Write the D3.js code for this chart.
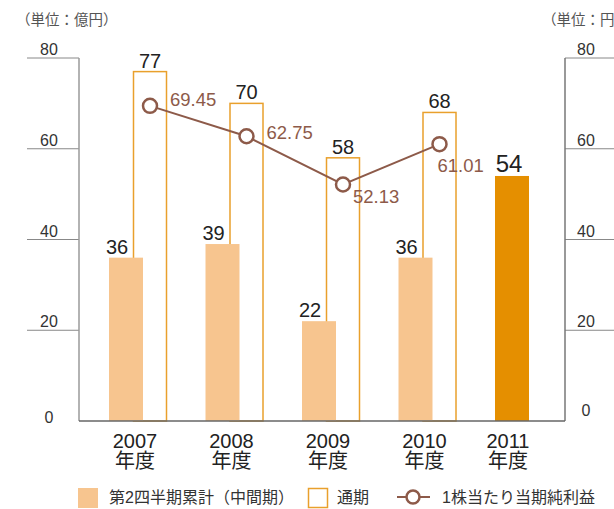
<!DOCTYPE html>
<html>

<head>
    <meta charset="utf-8">
    <style>
        body {
            margin: 0;
            background: #fff;
        }

        svg text {
            font-family: 'Liberation Sans', 'Noto Sans CJK JP', sans-serif;
        }
    </style>
</head>

<body>
    <svg width="614" height="509"></svg>

    <script src="https://d3js.org/d3.v7.min.js"></script>

    <script>
        // chart data
        let years = ["2007", "2008", "2009", "2010", "2011"]
        let halfYear = [36, 39, 22, 36, 54]          // 第2四半期累計（中間期）
        let fullYear = [77, 70, 58, 68, null]        // 通期
        let eps = [69.45, 62.75, 52.13, 61.01, null] // 1株当たり当期純利益
        let yTicks = [0, 20, 40, 60, 80]

        // where each eps label sits relative to its point
        let epsLabelPos = [[20, 0], [20, 3], [10, 19], [-2, 28]]

        let svg = d3.select("svg")

        let x = d3.scalePoint()
            .domain(years)
            .range([126, 512])

        let y = d3.scaleLinear()
            .domain([0, 80])
            .range([421, 58])

        let left = 79, right = 565
        let fillW = 34, outW = 33, outShift = 24

        // unit labels
        svg.append("text")
            .attr("x", 16).attr("y", 25)
            .style("font-size", "14.5px").style("fill", "#555")
            .text("（単位：億円）")
        svg.append("text")
            .attr("x", 542).attr("y", 25)
            .style("font-size", "14.5px").style("fill", "#555")
            .text("（単位：円）")

        // tick lines, left and right
        let gTicks = yTicks.filter(d => d > 0)
        svg.selectAll(".tl")
            .data(gTicks)
            .join("line")
            .attr("x1", 27).attr("x2", left)
            .attr("y1", d => y(d)).attr("y2", d => y(d))
            .style("stroke", "#888").style("stroke-width", 1)
        svg.selectAll(".tr")
            .data(gTicks)
            .join("line")
            .attr("x1", right).attr("x2", 614)
            .attr("y1", d => y(d)).attr("y2", d => y(d))
            .style("stroke", "#888").style("stroke-width", 1)

        svg.selectAll(".ll")
            .data(yTicks)
            .join("text")
            .attr("x", 49)
            .attr("y", d => d == 0 ? y(d) + 2 : y(d) - 3)
            .attr("text-anchor", "middle")
            .style("font-size", "16px").style("fill", "#333")
            .text(d => d)
        svg.selectAll(".rl")
            .data(yTicks)
            .join("text")
            .attr("x", 586)
            .attr("y", d => d == 0 ? y(d) - 5 : y(d) - 3)
            .attr("text-anchor", "middle")
            .style("font-size", "16px").style("fill", "#333")
            .text(d => d)

        // vertical axes
        svg.append("line")
            .attr("x1", left).attr("x2", left)
            .attr("y1", y(80)).attr("y2", y(0))
            .style("stroke", "#9a9a9a").style("stroke-width", 1.5)
        svg.append("line")
            .attr("x1", right).attr("x2", right)
            .attr("y1", y(80)).attr("y2", y(0))
            .style("stroke", "#777").style("stroke-width", 1.5)

        // full-year outline bars
        let full = years.map((d, i) => ({ year: d, v: fullYear[i] })).filter(d => d.v != null)
        svg.selectAll(".full")
            .data(full)
            .join("rect")
            .attr("x", d => x(d.year) + outShift - outW / 2)
            .attr("y", d => y(d.v))
            .attr("width", outW)
            .attr("height", d => y(0) - y(d.v))
            .style("fill", "none")
            .style("stroke", "#e9a02c")
            .style("stroke-width", 1.5)

        svg.selectAll(".fullLab")
            .data(full)
            .join("text")
            .attr("x", d => x(d.year) + outShift)
            .attr("y", d => y(d.v) - 4)
            .attr("text-anchor", "middle")
            .style("font-size", "20px").style("fill", "#222")
            .text(d => d.v)

        // half-year filled bars
        let half = years.map((d, i) => ({ year: d, v: halfYear[i], last: fullYear[i] == null }))
        svg.selectAll(".half")
            .data(half)
            .join("rect")
            .attr("x", d => x(d.year) - fillW / 2)
            .attr("y", d => y(d.v))
            .attr("width", fillW)
            .attr("height", d => y(0) - y(d.v))
            .style("fill", d => d.last ? "#e58f00" : "#f7c58f")

        svg.selectAll(".halfLab")
            .data(half)
            .join("text")
            .attr("x", d => x(d.year) + (d.last ? -3 : -9))
            .attr("y", d => y(d.v) - 4)
            .attr("text-anchor", "middle")
            .style("font-size", d => d.last ? "24px" : "20px")
            .style("fill", "#222")
            .text(d => d.v)

        // baseline
        svg.append("line")
            .attr("x1", left).attr("x2", right)
            .attr("y1", y(0)).attr("y2", y(0))
            .style("stroke", "#666").style("stroke-width", 1.5)

        // eps line
        let pts = years.map((d, i) => ({ year: d, v: eps[i] })).filter(d => d.v != null)
        let line = d3.line()
            .x(d => x(d.year) + outShift)
            .y(d => y(d.v))
        svg.append("path")
            .attr("d", line(pts))
            .style("fill", "none")
            .style("stroke", "#8d5a49")
            .style("stroke-width", 2)

        svg.selectAll(".pt")
            .data(pts)
            .join("circle")
            .attr("cx", d => x(d.year) + outShift)
            .attr("cy", d => y(d.v))
            .attr("r", 7)
            .style("fill", "#fff")
            .style("stroke", "#8d5a49")
            .style("stroke-width", 2.5)

        svg.selectAll(".ptLab")
            .data(pts)
            .join("text")
            .attr("x", (d, i) => x(d.year) + outShift + epsLabelPos[i][0])
            .attr("y", (d, i) => y(d.v) + epsLabelPos[i][1])
            .style("font-size", "18.5px")
            .style("fill", "#8d5a49")
            .text(d => d3.format(".2f")(d.v))

        // category labels
        let cat = svg.selectAll(".cat")
            .data(half)
            .join("text")
            .attr("x", d => x(d.year) + (d.last ? -4 : 9))
            .attr("y", 448)
            .attr("text-anchor", "middle")
            .style("font-size", "20px").style("fill", "#222")
        cat.append("tspan").text(d => d.year)
        cat.append("tspan")
            .attr("x", d => x(d.year) + (d.last ? -4 : 9))
            .attr("dy", 20)
            .text("年度")

        // legend
        let lg = svg.append("g")
        lg.append("rect")
            .attr("x", 78).attr("y", 488).attr("width", 20).attr("height", 20)
            .style("fill", "#f7c58f")
        lg.append("text")
            .attr("x", 109).attr("y", 503)
            .style("font-size", "16px").style("fill", "#333")
            .text("第2四半期累計（中間期）")
        lg.append("rect")
            .attr("x", 308.5).attr("y", 488.5).attr("width", 19).attr("height", 19)
            .style("fill", "none").style("stroke", "#e9a02c").style("stroke-width", 1.5)
        lg.append("text")
            .attr("x", 337).attr("y", 503)
            .style("font-size", "16px").style("fill", "#333")
            .text("通期")
        lg.append("line")
            .attr("x1", 397).attr("x2", 430).attr("y1", 497).attr("y2", 497)
            .style("stroke", "#8d5a49").style("stroke-width", 2)
        lg.append("circle")
            .attr("cx", 413).attr("cy", 497).attr("r", 6.5)
            .style("fill", "#fff").style("stroke", "#8d5a49").style("stroke-width", 2.5)
        lg.append("text")
            .attr("x", 442).attr("y", 503)
            .style("font-size", "16px").style("fill", "#333")
            .text("1株当たり当期純利益")
    </script>
</body>

</html>
